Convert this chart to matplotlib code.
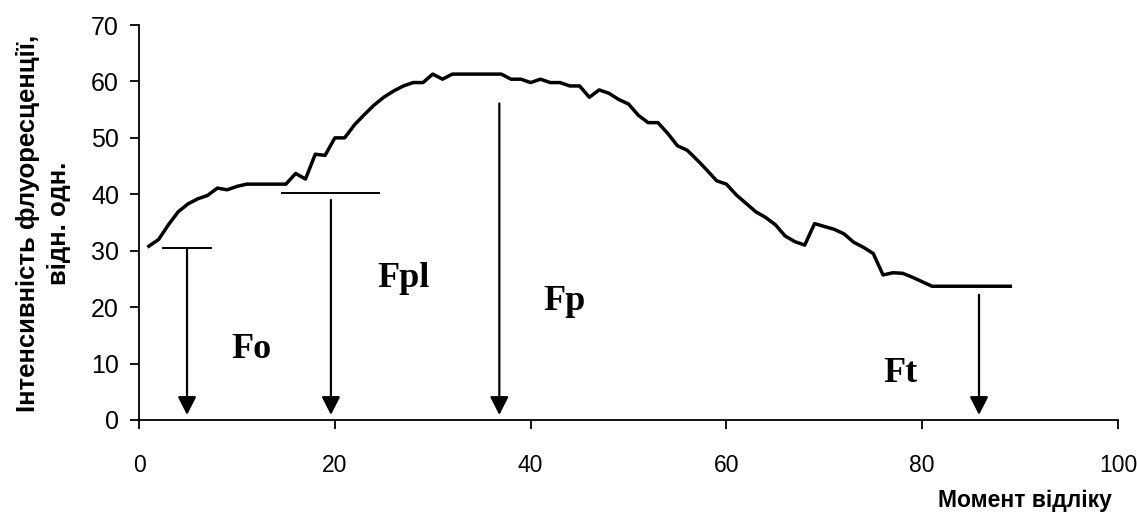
import numpy as np
import matplotlib
matplotlib.use("Agg")
import matplotlib.pyplot as plt

# Момент відліку / інтенсивність флуоресценції
moment = list(range(1, 90))
intensity = [
    30.8, 32.0, 34.6, 36.9, 38.3, 39.2, 39.8, 41.1, 40.8, 41.4,
    41.8, 41.8, 41.8, 41.8, 41.8, 43.7, 42.7, 47.1, 46.9, 50.0,
    50.0, 52.3, 54.1, 55.8, 57.2, 58.3, 59.2, 59.8, 59.8, 61.3,
    60.4, 61.3, 61.3, 61.3, 61.3, 61.3, 61.3, 60.4, 60.4, 59.8,
    60.4, 59.8, 59.8, 59.2, 59.2, 57.2, 58.5, 57.9, 56.8, 56.0,
    54.0, 52.7, 52.7, 50.8, 48.6, 47.8, 46.1, 44.3, 42.4, 41.8,
    39.9, 38.4, 36.9, 35.9, 34.6, 32.6, 31.6, 31.0, 34.8, 34.3,
    33.8, 33.0, 31.5, 30.6, 29.5, 25.7, 26.1, 26.0, 25.3, 24.5,
    23.7, 23.7, 23.7, 23.7, 23.7, 23.7, 23.7, 23.7, 23.7,
]

# стрілки Fo, Fpl, Fp, Ft
arrow_x = [4.9, 19.6, 36.8, 85.8]
arrow_top = [30.4, 39.0, 56.1, 22.2]
# рівні (горизонтальні відрізки) для Fo та Fpl
level_y = [30.4, 40.3]
level_x0 = [2.4, 14.6]
level_x1 = [7.4, 24.5]
# підписи
label_text = ["Fo", "Fpl", "Fp", "Ft"]
label_x = [9.45, 24.3, 41.3, 76.0]
label_y = [11.0, 23.6, 19.5, 6.8]

fig = plt.figure(figsize=(11.37, 5.18), dpi=100)
ax = fig.add_axes([0.1223, 0.1892, 0.861, 0.7625])

ax.plot(moment, intensity, color="black", lw=2.5, solid_joinstyle="round")

for y, x0, x1 in zip(level_y, level_x0, level_x1):
    ax.plot([x0, x1], [y, y], color="black", lw=1.4)

for x, top in zip(arrow_x, arrow_top):
    ax.annotate("", xy=(x, 0.9), xytext=(x, top),
                arrowprops=dict(arrowstyle="-|>,head_length=0.55,head_width=0.28",
                                mutation_scale=20, color="black", lw=1.6,
                                shrinkA=0, shrinkB=0))

for t, x, y in zip(label_text, label_x, label_y):
    ax.text(x, y, t, fontsize=26, fontweight="bold", family="Liberation Serif",
            ha="left", va="baseline")

ax.set_xlim(0, 100)
ax.set_ylim(0, 70)
ax.set_xticks(np.arange(0, 101, 20))
ax.set_yticks(np.arange(0, 71, 10))
ax.spines["top"].set_visible(False)
ax.spines["right"].set_visible(False)
for s in ["left", "bottom"]:
    ax.spines[s].set_linewidth(1.3)
ax.tick_params(direction="out", length=6.5, width=1.3, labelsize=18, pad=8)
ax.tick_params(axis="x", pad=18, labelsize=16.5)
for lab in ax.get_xticklabels() + ax.get_yticklabels():
    lab.set_family("Liberation Sans")

fig.text(0.038, 0.568, "Інтенсивність флуоресценції,\nвідн. одн.", rotation=90,
         ha="center", va="center", fontsize=18.5, fontweight="bold",
         family="Liberation Sans", linespacing=1.35)
fig.text(0.978, 0.033, "Момент відліку", ha="right", va="center", fontsize=16.5,
         fontweight="bold", family="Liberation Sans")

fig.savefig("out.png", dpi=100)
